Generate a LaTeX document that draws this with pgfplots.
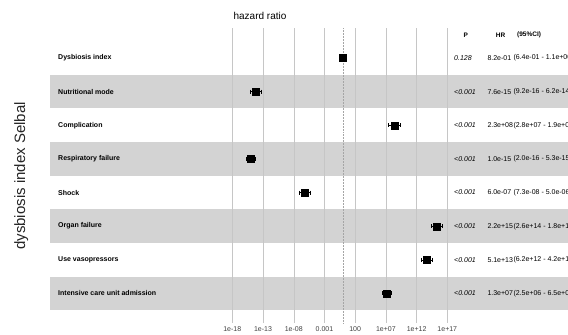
\documentclass[border=0pt]{standalone}
\usepackage{fontspec}
\setmainfont{Liberation Sans}
\usepackage{pgfplots}
\pgfplotsset{compat=1.18}

\definecolor{bandgray}{RGB}{211,211,211}
\definecolor{gridgray}{RGB}{198,198,198}
\definecolor{refgray}{RGB}{165,165,165}

\newcommand{\rowfont}{\fontsize{7}{8}\selectfont\bfseries}
\newcommand{\txtfont}{\fontsize{7}{8}\selectfont}

\begin{document}
\begin{tikzpicture}[x=1pt,y=1pt]
\path (0,0) rectangle (568,-333);

\begin{axis}[
  at={(232.3pt,-28pt)}, anchor=north west,
  scale only axis, width=215pt, height=295pt,
  set layers, clip=false,
  xmode=log, xmin=1e-18, xmax=1e17,
  ymin=0.108, ymax=8.877, y dir=reverse,
  axis line style={draw=none},
  xtick={1e-18,1e-13,1e-8,1e-3,1e2,1e7,1e12,1e17},
  xticklabels={1e-18,1e-13,1e-08,0.001,100,1e+07,1e+12,1e+17},
  minor xtick={}, ytick=\empty,
  major tick length=0pt,
  xmajorgrids, grid style={color=gridgray, line width=0.35pt},
  xticklabel style={font=\txtfont, text=black!75},
]
% alternating row bands
\begin{pgfonlayer}{axis background}
\fill[bandgray] ({rel axis cs:-0.848,0}|-{axis cs:1,1.5}) rectangle ({rel axis cs:1.5614,0}|-{axis cs:1,2.5});
\fill[bandgray] ({rel axis cs:-0.848,0}|-{axis cs:1,3.5}) rectangle ({rel axis cs:1.5614,0}|-{axis cs:1,4.5});
\fill[bandgray] ({rel axis cs:-0.848,0}|-{axis cs:1,5.5}) rectangle ({rel axis cs:1.5614,0}|-{axis cs:1,6.5});
\fill[bandgray] ({rel axis cs:-0.848,0}|-{axis cs:1,7.5}) rectangle ({rel axis cs:1.5614,0}|-{axis cs:1,8.5});
\end{pgfonlayer}

% reference line at HR = 1
\draw[refgray, densely dotted, line width=0.5pt] ({axis cs:1,1}|-{rel axis cs:0,0}) -- ({axis cs:1,1}|-{rel axis cs:0,1});

% 95% confidence intervals
\pgfplotsset{ci/.style={black, line width=0.5pt, mark=|, mark size=2pt, mark options={solid}}}
\addplot[ci] coordinates {(6.4e-01,1) (1.1e+00,1)};
\addplot[ci] coordinates {(9.2e-16,2) (6.2e-14,2)};
\addplot[ci] coordinates {(2.8e+07,3) (1.9e+09,3)};
\addplot[ci] coordinates {(2.0e-16,4) (5.3e-15,4)};
\addplot[ci] coordinates {(7.3e-08,5) (5.0e-06,5)};
\addplot[ci] coordinates {(2.6e+14,6) (1.8e+16,6)};
\addplot[ci] coordinates {(6.2e+12,7) (4.2e+14,7)};
\addplot[ci] coordinates {(2.5e+06,8) (6.5e+07,8)};

% hazard ratios
\addplot[only marks, mark=square*, mark size=3.5pt, black] coordinates {
  (8.2e-01,1) (7.6e-15,2) (2.3e+08,3) (1.0e-15,4)
  (6.0e-07,5) (2.2e+15,6) (5.1e+13,7) (1.3e+07,8)
};
\end{axis}

% titles
\node[font=\fontsize{10}{12}\selectfont] at (260,-16) {hazard ratio};
\node[rotate=90, anchor=base, font=\fontsize{15}{18}\selectfont, text=black!85] at (25,-176) {dysbiosis index Selbal};

% column headers
\node[font=\fontsize{6.5}{8}\selectfont\bfseries] at (465.7,-35) {P};
\node[font=\fontsize{6.5}{8}\selectfont\bfseries] at (500.5,-35) {HR};
\node[font=\fontsize{6.5}{8}\selectfont\bfseries, anchor=west, inner sep=0pt] at (517,-35) {(95\%CI)};

% row labels and statistics (the interval column runs off the right edge)
\begin{scope}
\clip (0,0) rectangle (568,-333);
\foreach \k/\lab/\p/\hr/\ci in {
  1/Dysbiosis index/0.128/8.2e-01/(6.4e-01 - 1.1e+00),
  2/Nutritional mode/<0.001/7.6e-15/(9.2e-16 - 6.2e-14),
  3/Complication/<0.001/2.3e+08/(2.8e+07 - 1.9e+09),
  4/Respiratory failure/<0.001/1.0e-15/(2.0e-16 - 5.3e-15),
  5/Shock/<0.001/6.0e-07/(7.3e-08 - 5.0e-06),
  6/Organ failure/<0.001/2.2e+15/(2.6e+14 - 1.8e+16),
  7/Use vasopressors/<0.001/5.1e+13/(6.2e+12 - 4.2e+14),
  8/Intensive care unit admission/<0.001/1.3e+07/(2.5e+06 - 6.5e+07)} {
  \pgfmathsetmacro{\yy}{-(58+(\k-1)*33.64)}
  \node[anchor=west, inner sep=0pt, font=\rowfont] at (58,\yy) {\lab};
  \node[anchor=west, inner sep=0pt, font=\txtfont\itshape] at (454,\yy) {\p};
  \node[anchor=west, inner sep=0pt, font=\txtfont] at (487.3,\yy) {\hr};
  \node[overlay, anchor=west, inner sep=0pt, font=\txtfont] at (513.3,\yy) {\ci};
}
\end{scope}
\end{tikzpicture}
\end{document}
